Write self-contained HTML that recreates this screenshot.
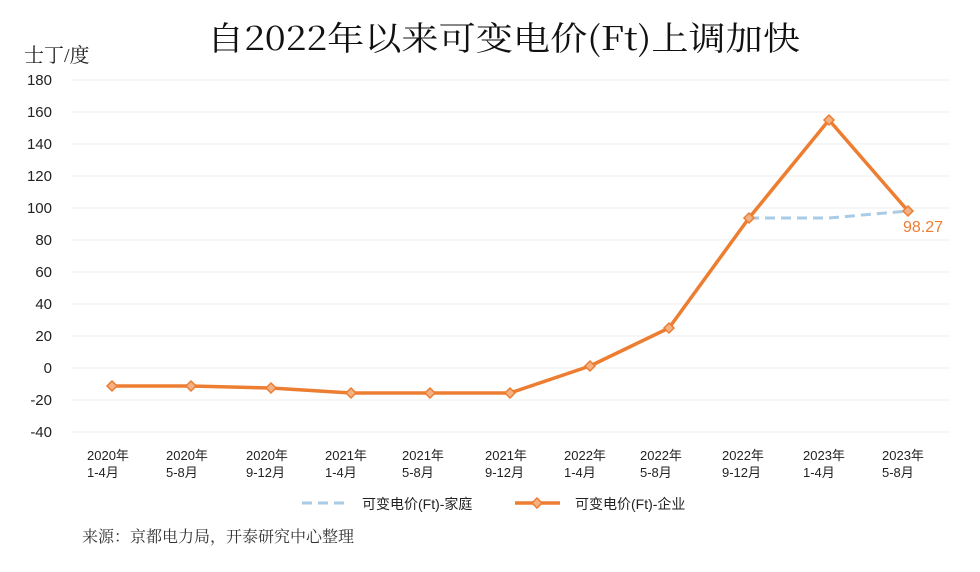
<!DOCTYPE html>
<html><head><meta charset="utf-8"><style>
body{margin:0;background:#fff;}
svg text{font-family:"Liberation Sans","Noto Sans CJK SC",sans-serif;}
</style></head><body>
<svg width="980" height="567" xmlns="http://www.w3.org/2000/svg">
<rect width="980" height="567" fill="#fff"/>
<text x="207" y="50" font-size="33" textLength="593" lengthAdjust="spacingAndGlyphs" fill="#111" style="font-family:'Noto Serif CJK SC','Liberation Serif',serif">自2022年以来可变电价(Ft)上调加快</text>
<text x="24" y="62" font-size="20" fill="#222" style="font-family:'Liberation Serif','Noto Serif CJK SC',serif">士丁/度</text>
<g stroke="#eeeeee" stroke-width="1">
<line x1="72" x2="950" y1="80" y2="80"/><line x1="72" x2="950" y1="112" y2="112"/><line x1="72" x2="950" y1="144" y2="144"/><line x1="72" x2="950" y1="176" y2="176"/><line x1="72" x2="950" y1="208" y2="208"/><line x1="72" x2="950" y1="240" y2="240"/><line x1="72" x2="950" y1="272" y2="272"/><line x1="72" x2="950" y1="304" y2="304"/><line x1="72" x2="950" y1="336" y2="336"/><line x1="72" x2="950" y1="368" y2="368"/><line x1="72" x2="950" y1="400" y2="400"/><line x1="72" x2="950" y1="432" y2="432"/>
</g>
<g font-size="15" fill="#222" text-anchor="end">
<text x="52" y="85">180</text><text x="52" y="117">160</text><text x="52" y="149">140</text><text x="52" y="181">120</text><text x="52" y="213">100</text><text x="52" y="245">80</text><text x="52" y="277">60</text><text x="52" y="309">40</text><text x="52" y="341">20</text><text x="52" y="373">0</text><text x="52" y="405">-20</text><text x="52" y="437">-40</text>
</g>
<g font-size="13" fill="#222">
<text x="87" y="460">2020年</text><text x="87" y="477">1-4月</text>
<text x="166" y="460">2020年</text><text x="166" y="477">5-8月</text>
<text x="246" y="460">2020年</text><text x="246" y="477">9-12月</text>
<text x="325" y="460">2021年</text><text x="325" y="477">1-4月</text>
<text x="402" y="460">2021年</text><text x="402" y="477">5-8月</text>
<text x="485" y="460">2021年</text><text x="485" y="477">9-12月</text>
<text x="564" y="460">2022年</text><text x="564" y="477">1-4月</text>
<text x="640" y="460">2022年</text><text x="640" y="477">5-8月</text>
<text x="722" y="460">2022年</text><text x="722" y="477">9-12月</text>
<text x="803" y="460">2023年</text><text x="803" y="477">1-4月</text>
<text x="882" y="460">2023年</text><text x="882" y="477">5-8月</text>
</g>
<polyline points="749,218 829,218 908,211" fill="none" stroke="#a9cbe6" stroke-width="3" stroke-dasharray="10,6"/>
<polyline points="112,386 191,386 271,388 351,393 430,393 510,393 590,366 669,328 749,218 829,120 908,211" fill="none" stroke="#ed7d31" stroke-width="3.5" stroke-linejoin="round"/>
<g fill="#f4b183" stroke="#ed7d31" stroke-width="1.5">
<path d="M112 381l5 5-5 5-5-5z"/><path d="M191 381l5 5-5 5-5-5z"/><path d="M271 383l5 5-5 5-5-5z"/><path d="M351 388l5 5-5 5-5-5z"/><path d="M430 388l5 5-5 5-5-5z"/><path d="M510 388l5 5-5 5-5-5z"/><path d="M590 361l5 5-5 5-5-5z"/><path d="M669 323l5 5-5 5-5-5z"/><path d="M749 213l5 5-5 5-5-5z"/><path d="M829 115l5 5-5 5-5-5z"/><path d="M908 206l5 5-5 5-5-5z"/>
</g>
<text x="903" y="232" font-size="16" fill="#ed7d31">98.27</text>
<line x1="302" x2="350" y1="503" y2="503" stroke="#a9cbe6" stroke-width="3" stroke-dasharray="10,6"/>
<text x="362" y="509" font-size="14" fill="#222">可变电价(Ft)-家庭</text>
<line x1="515" x2="560" y1="503" y2="503" stroke="#ed7d31" stroke-width="3.5"/>
<path d="M537 498l5 5-5 5-5-5z" fill="#f4b183" stroke="#ed7d31" stroke-width="1.5"/>
<text x="575" y="509" font-size="14" fill="#222">可变电价(Ft)-企业</text>
<text x="82" y="542" font-size="16" fill="#333" style="font-family:'Liberation Serif','Noto Serif CJK SC',serif">来源：京都电力局，开泰研究中心整理</text>
</svg>
</body></html>
